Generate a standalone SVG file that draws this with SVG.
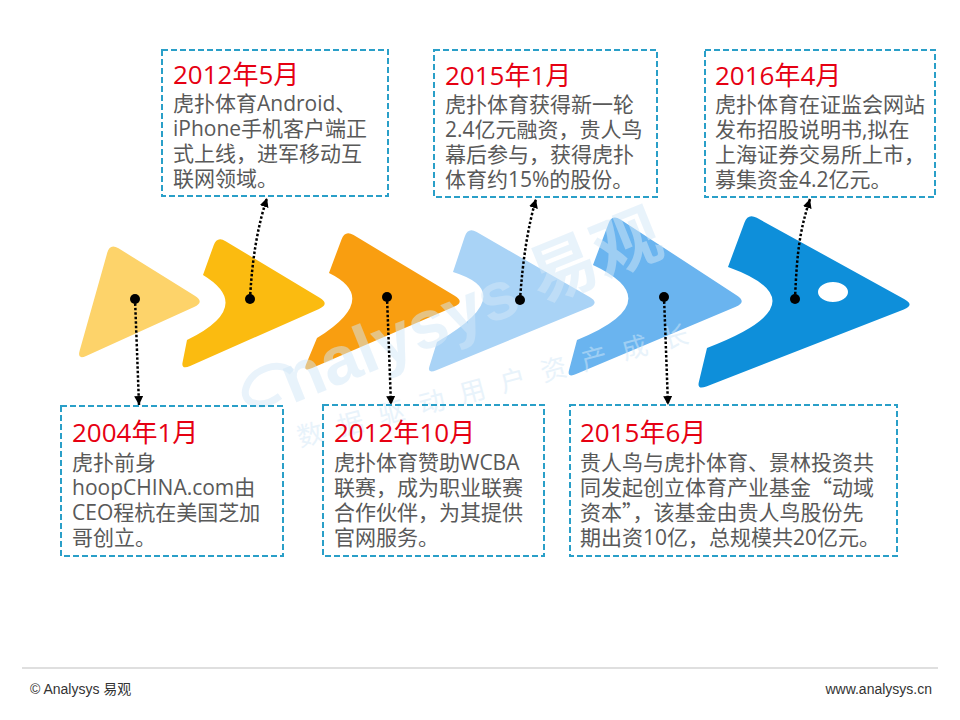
<svg xmlns="http://www.w3.org/2000/svg" width="960" height="720" viewBox="0 0 960 720">
<style>
.box{fill:none;stroke:#2A9FC8;stroke-width:2;stroke-dasharray:6 3}
.t{font-family:"Open Sans","Noto Sans CJK SC",sans-serif;font-size:26px;fill:#E60012}
.b{font-family:"Open Sans","Noto Sans CJK SC",sans-serif;font-size:21px;fill:#595959}
.cjk{font-family:"Noto Sans CJK SC",sans-serif}
.con{fill:none;stroke:#000;stroke-width:2.5;stroke-dasharray:2.5 2}
.dot{fill:#000}
.wm{font-family:"Liberation Sans","Noto Sans CJK SC",sans-serif;fill:#D3E8F8;opacity:0.5}
.ft{font-family:"Liberation Sans","Noto Sans CJK SC",sans-serif;font-size:14px;fill:#333}
</style>
<defs>
<marker id="arr" viewBox="0 0 10 10" refX="10" refY="5" markerWidth="9" markerHeight="9" markerUnits="userSpaceOnUse" orient="auto">
<path d="M0,0 L10,5 L0,10 Z" fill="#000"/>
</marker>
</defs>
<rect width="960" height="720" fill="#fff"/>

<g id="shapes">
<path id="s1" fill="#FDD36A" d="M118.5,248.3 L194.8,295.7 Q205,302 194.1,307 L86.1,355.9 Q77,360 79.7,350.4 L107.3,252.6 Q110,243 118.5,248.3 Z"/>
<path id="s2" fill="#FBBB10" d="M225.6,241.2 L319.7,297.8 Q330,304 319,308.9 L190.1,366 Q181,370 182.6,362.2 L187,340 Q255,306.5 203,275 L213.6,245.4 Q217,236 225.6,241.2 Z"/>
<path id="s3" fill="#F99E10" d="M353.6,235.1 L454.7,295.8 Q465,302 454,306.8 L312.2,368 Q303,372 306,364.6 L317,338 Q381,298.5 329,273 L341.5,239.4 Q345,230 353.6,235.1 Z"/>
<path id="s4" fill="#A9D3F6" d="M476.7,232 L589.6,297 Q600,303 588.9,307.6 L436.3,370.2 Q427,374 429.4,366.4 L437,342 Q521,293 453,272 L464.8,236.5 Q468,227 476.7,232 Z"/>
<path id="s5" fill="#6AB4EF" d="M620.4,219.5 L736.9,295.4 Q747,302 735.9,306.7 L576.2,374.1 Q567,378 569,370.3 L577,340 Q671,301.5 593,265 L608.5,223.4 Q612,214 620.4,219.5 Z"/>
<path id="s6" fill="#0E8FDA" fill-rule="evenodd" d="M756.8,217.8 L904.5,299.2 Q915,305 903.8,309.4 L706.3,386.4 Q697,390 698.8,382.2 L707,348 Q826.5,302.5 728,267 L744.5,222.4 Q748,213 756.8,217.8 Z M818,292 a15,10 0 1,0 30,0 a15,10 0 1,0 -30,0 Z"/>
</g>

<g id="watermark">
<path d="M292,372 C280,360 252,368 246,388 C241,404 262,410 280,396" fill="none" stroke="#D3E8F8" stroke-width="7" opacity="0.5"/>
<text class="wm" transform="translate(292,404) rotate(-22)" font-size="68" font-weight="bold">nalysys 易观</text>
<text class="wm" transform="translate(300,447) rotate(-15)" font-size="26" letter-spacing="16">数据驱动用户资产成长</text>
</g>

<g id="connectors">
<path class="con" d="M135,299 Q137,350 139,405" marker-end="url(#arr)"/>
<path class="con" d="M250,299 Q253,240 267,198" marker-end="url(#arr)"/>
<path class="con" d="M387,297 Q389,350 391,405" marker-end="url(#arr)"/>
<path class="con" d="M520,300 Q524,240 536,199" marker-end="url(#arr)"/>
<path class="con" d="M664,297 Q666,350 668,405" marker-end="url(#arr)"/>
<path class="con" d="M795,299 C797,250 800,230 810,199" marker-end="url(#arr)"/>
<circle class="dot" cx="135" cy="299" r="5"/>
<circle class="dot" cx="250" cy="299" r="5"/>
<circle class="dot" cx="387" cy="297" r="5"/>
<circle class="dot" cx="520" cy="300" r="5"/>
<circle class="dot" cx="664" cy="297" r="5"/>
<circle class="dot" cx="795" cy="299" r="5"/>
</g>

<g id="box-2012-5">
<rect class="box" x="162" y="50" width="226" height="146"/>
<text class="t" x="173" y="84">2012年5月</text>
<text class="b" x="173" y="111">虎扑体育Android、</text>
<text class="b" x="173" y="136">iPhone手机客户端正</text>
<text class="b" x="173" y="161">式上线，进军移动互</text>
<text class="b" x="173" y="186">联网领域。</text>
</g>

<g id="box-2015-1">
<rect class="box" x="434" y="50" width="223" height="147"/>
<text class="t" x="445" y="85">2015年1月</text>
<text class="b" x="445" y="112">虎扑体育获得新一轮</text>
<text class="b" x="445" y="137">2.4亿元融资，贵人鸟</text>
<text class="b" x="445" y="162">幕后参与，获得虎扑</text>
<text class="b" x="445" y="187">体育约15%的股份。</text>
</g>

<g id="box-2016-4">
<rect class="box" x="705" y="50" width="230" height="147"/>
<text class="t" x="715" y="85">2016年4月</text>
<text class="b" x="715" y="112">虎扑体育在证监会网站</text>
<text class="b" x="715" y="137">发布招股说明书,拟在</text>
<text class="b" x="715" y="162">上海证券交易所上市，</text>
<text class="b" x="715" y="187">募集资金4.2亿元。</text>
</g>

<g id="box-2004-1">
<rect class="box" x="61" y="406" width="222" height="150"/>
<text class="t" x="72" y="442">2004年1月</text>
<text class="b" x="72" y="470">虎扑前身</text>
<text class="b" x="72" y="495">hoopCHINA.com由</text>
<text class="b" x="72" y="520">CEO程杭在美国芝加</text>
<text class="b" x="72" y="545">哥创立。</text>
</g>

<g id="box-2012-10">
<rect class="box" x="323" y="405" width="221" height="151"/>
<text class="t" x="334" y="442">2012年10月</text>
<text class="b" x="334" y="470">虎扑体育赞助WCBA</text>
<text class="b" x="334" y="495">联赛，成为职业联赛</text>
<text class="b" x="334" y="520">合作伙伴，为其提供</text>
<text class="b" x="334" y="545">官网服务。</text>
</g>

<g id="box-2015-6">
<rect class="box" x="570" y="405" width="327" height="151"/>
<text class="t" x="580" y="442">2015年6月</text>
<text class="b" x="580" y="470">贵人鸟与虎扑体育、景林投资共</text>
<text class="b" x="580" y="495">同发起创立体育产业基金<tspan class="cjk">“</tspan>动域</text>
<text class="b" x="580" y="520">资本<tspan class="cjk">”</tspan>，该基金由贵人鸟股份先</text>
<text class="b" x="580" y="545">期出资10亿，总规模共20亿元。</text>
</g>

<g id="footer">
<line x1="22" y1="668" x2="938" y2="668" stroke="#BFBFBF" stroke-width="1"/>
<text class="ft" x="30" y="694">© Analysys 易观</text>
<text class="ft" x="932" y="694" text-anchor="end">www.analysys.cn</text>
</g>
</svg>
